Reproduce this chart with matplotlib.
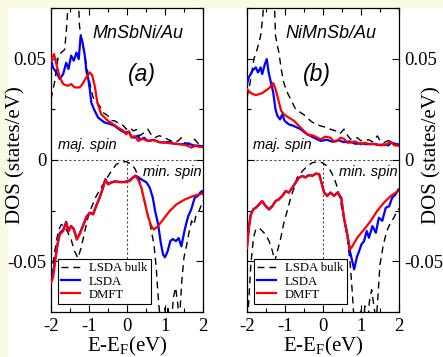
import matplotlib
matplotlib.use("Agg")
import matplotlib.pyplot as plt
from matplotlib.patches import Rectangle
from matplotlib.ticker import MultipleLocator

plt.rcParams['font.family'] = ['Liberation Serif', 'DejaVu Serif']
plt.rcParams['mathtext.fontset'] = 'custom'
plt.rcParams['mathtext.rm'] = 'Liberation Serif'
plt.rcParams['axes.unicode_minus'] = False

# ---- panel (a) MnSbNi/Au, majority spin ----
a_maj_lsda_x = [-2.0, -1.95, -1.86, -1.77, -1.68, -1.60, -1.54, -1.47, -1.40, -1.33, -1.27, -1.22, -1.17,
                -1.11, -1.07, -1.02, -0.98, -0.94, -0.87, -0.76, -0.59, -0.45, -0.32, -0.2, -0.06, 0.05, 0.12,
                0.20, 0.28, 0.35, 0.45, 0.55, 0.7, 0.85, 0.99, 1.1, 1.25, 1.43, 1.6, 1.75, 1.9, 2.0]
a_maj_lsda_y = [0.050, 0.0457, 0.0432, 0.040, 0.0424, 0.048, 0.0449, 0.0515, 0.049, 0.053, 0.0498, 0.0614, 0.058,
                0.0515, 0.044, 0.040, 0.035, 0.0284, 0.0251, 0.0209, 0.0185, 0.0178, 0.0168, 0.015, 0.0135, 0.0140,
                0.0115, 0.011, 0.0120, 0.0100, 0.0110, 0.0094, 0.0098, 0.0088, 0.0086, 0.0090, 0.0080, 0.0077,
                0.0082, 0.0072, 0.0070, 0.0068]
a_maj_dmft_x = [-2.0, -1.92, -1.86, -1.77, -1.68, -1.62, -1.55, -1.47, -1.38, -1.25, -1.17, -1.07, -0.98, -0.92,
                -0.85, -0.78, -0.68, -0.5, -0.35, -0.24, -0.1, -0.02, 0.05, 0.12, 0.2, 0.3, 0.4, 0.55, 0.7, 0.85,
                1.0, 1.15, 1.3, 1.45, 1.6, 1.69, 1.8, 1.9, 2.0]
a_maj_dmft_y = [0.049, 0.0523, 0.0473, 0.0408, 0.0375, 0.0370, 0.0366, 0.0375, 0.0358, 0.0358, 0.0375, 0.0408,
                0.0432, 0.042, 0.0366, 0.0284, 0.0226, 0.0193, 0.0175, 0.016, 0.0145, 0.0127, 0.0140, 0.0110,
                0.0118, 0.0094, 0.0105, 0.0094, 0.0100, 0.0088, 0.0086, 0.0082, 0.0080, 0.0077, 0.0070, 0.0061,
                0.0070, 0.0065, 0.0063]
a_maj_bulk_x = [-2.0, -1.9, -1.81, -1.73, -1.64, -1.6, -1.5, -1.4, -1.3, -1.25, -1.21, -1.11, -0.98, -0.89, -0.8,
                -0.72, -0.63, -0.5, -0.42, -0.32, -0.18, -0.1, -0.02, 0.08, 0.16, 0.25, 0.33, 0.45, 0.55, 0.65,
                0.73, 0.85, 0.99, 1.1, 1.25, 1.35, 1.43, 1.52, 1.6, 1.7, 1.78, 1.88, 2.0]
a_maj_bulk_y = [0.030, 0.039, 0.0515, 0.053, 0.0545, 0.063, 0.09, 0.11, 0.09, 0.066, 0.0614, 0.0515, 0.038,
                0.0308, 0.0284, 0.0267, 0.0234, 0.0218, 0.0195, 0.0193, 0.0176, 0.017, 0.0152, 0.0160, 0.0144,
                0.0150, 0.0119, 0.0135, 0.0152, 0.0120, 0.0110, 0.0120, 0.0110, 0.0100, 0.0086, 0.0095, 0.0110,
                0.0085, 0.0077, 0.0090, 0.0102, 0.0080, 0.0069]

# ---- panel (a) minority spin ----
a_min_lsda_x = [-2.0, -1.95, -1.9, -1.83, -1.77, -1.68, -1.6, -1.54, -1.47, -1.40, -1.32, -1.25, -1.16, -1.07,
                -0.98, -0.89, -0.81, -0.72, -0.63, -0.57, -0.50, -0.41, -0.32, -0.19, -0.06, 0.07, 0.16, 0.22,
                0.3, 0.38, 0.51, 0.6, 0.68, 0.74, 0.82, 0.89, 0.95, 1.0, 1.07, 1.14, 1.2, 1.29, 1.36, 1.43, 1.52,
                1.61, 1.69, 1.78, 1.86, 1.93, 1.97, 2.0]
a_min_lsda_y = [-0.058, -0.0575, -0.050, -0.042, -0.036, -0.0345, -0.0305, -0.035, -0.0325, -0.034, -0.039,
                -0.0365, -0.0325, -0.028, -0.026, -0.0265, -0.0225, -0.0185, -0.0135, -0.0095, -0.0118, -0.011,
                -0.0105, -0.0108, -0.0108, -0.0100, -0.0085, -0.0077, -0.0085, -0.0096, -0.011, -0.0137, -0.0187,
                -0.0252, -0.0318, -0.041, -0.0467, -0.048, -0.045, -0.040, -0.039, -0.040, -0.0385, -0.0426,
                -0.0343, -0.0277, -0.0244, -0.0187, -0.0178, -0.016, -0.0153, -0.0167]
a_min_dmft_x = [-2.0, -1.95, -1.9, -1.83, -1.77, -1.68, -1.6, -1.54, -1.47, -1.40, -1.32, -1.25, -1.16, -1.07,
                -0.98, -0.89, -0.81, -0.72, -0.63, -0.57, -0.50, -0.41, -0.32, -0.19, -0.06, 0.07, 0.16, 0.22,
                0.29, 0.38, 0.46, 0.55, 0.64, 0.71, 0.81, 0.95, 1.12, 1.3, 1.52, 1.74, 1.96, 2.0]
a_min_dmft_y = [-0.0607, -0.0583, -0.0517, -0.0417, -0.0368, -0.0351, -0.031, -0.0351, -0.0327, -0.0343,
                -0.0393, -0.0368, -0.0327, -0.0286, -0.0261, -0.0269, -0.0228, -0.0187, -0.0137, -0.0096,
                -0.0121, -0.0112, -0.0107, -0.011, -0.011, -0.0104, -0.0088, -0.0079, -0.0096, -0.0137, -0.0203,
                -0.0277, -0.0327, -0.0343, -0.0327, -0.0294, -0.0252, -0.0219, -0.0195, -0.0178, -0.0167, -0.0165]
a_min_bulk_x = [-2.0, -1.95, -1.9, -1.81, -1.73, -1.64, -1.55, -1.47, -1.38, -1.29, -1.21, -1.12, -1.03, -0.94,
                -0.81, -0.68, -0.55, -0.41, -0.28, -0.15, -0.02, 0.12, 0.22, 0.33, 0.46, 0.6, 0.71, 0.77, 0.81,
                0.86, 0.92, 0.97, 1.0, 1.04, 1.08, 1.12, 1.17, 1.22, 1.28, 1.33, 1.38, 1.44, 1.5, 1.57, 1.63,
                1.7, 1.76, 1.82, 1.9, 1.96, 2.0]
a_min_bulk_y = [-0.057, -0.052, -0.045, -0.0351, -0.0318, -0.0327, -0.036, -0.0393, -0.045, -0.0484, -0.0434,
                -0.036, -0.0286, -0.0236, -0.0178, -0.0137, -0.0096, -0.0054, -0.0021, -0.001, -0.0008, -0.0021,
                -0.0046, -0.0104, -0.0203, -0.031, -0.0417, -0.0533, -0.065, -0.076, -0.09, -0.085, -0.073,
                -0.086, -0.072, -0.085, -0.08, -0.068, -0.063, -0.07, -0.08, -0.06, -0.048, -0.042, -0.036,
                -0.030, -0.032, -0.027, -0.025, -0.022, -0.020]

# ---- panel (b) NiMnSb/Au, majority spin ----
b_maj_lsda_x = [-2.0, -1.95, -1.86, -1.77, -1.71, -1.64, -1.6, -1.53, -1.48, -1.43, -1.38, -1.31, -1.25, -1.2,
                -1.13, -1.07, -1.01, -0.9, -0.77, -0.59, -0.42, -0.24, -0.06, 0.1, 0.25, 0.4, 0.55, 0.7, 0.85,
                1.0, 1.15, 1.3, 1.45, 1.6, 1.72, 1.8, 1.9, 2.0]
b_maj_lsda_y = [0.0375, 0.0408, 0.044, 0.0457, 0.0432, 0.0457, 0.0424, 0.0473, 0.0498, 0.0432, 0.039, 0.0333,
                0.025, 0.0218, 0.020, 0.0226, 0.0193, 0.0176, 0.0168, 0.0152, 0.0127, 0.011, 0.0094, 0.0100,
                0.0090, 0.0098, 0.0088, 0.0092, 0.0080, 0.0082, 0.0078, 0.0080, 0.0074, 0.0077, 0.0072, 0.0086,
                0.0078, 0.0074]
b_maj_dmft_x = [-2.0, -1.9, -1.77, -1.6, -1.42, -1.31, -1.25, -1.18, -1.1, -1.03, -0.9, -0.76, -0.59, -0.41,
                -0.24, -0.06, 0.06, 0.2, 0.29, 0.38, 0.46, 0.55, 0.64, 0.73, 0.85, 0.99, 1.1, 1.25, 1.38, 1.52,
                1.65, 1.78, 1.88, 2.0]
b_maj_dmft_y = [0.035, 0.033, 0.032, 0.033, 0.0354, 0.038, 0.035, 0.030, 0.0242, 0.0226, 0.0209, 0.0193, 0.016,
                0.0127, 0.0119, 0.0102, 0.0115, 0.0110, 0.0090, 0.0094, 0.0110, 0.0105, 0.0085, 0.0086, 0.0092,
                0.0077, 0.0085, 0.0077, 0.0080, 0.0072, 0.0075, 0.0090, 0.0072, 0.0070]
b_maj_bulk_x = [-2.0, -1.9, -1.82, -1.73, -1.64, -1.58, -1.5, -1.4, -1.3, -1.25, -1.2, -1.16, -1.1, -1.03, -0.94,
                -0.85, -0.72, -0.59, -0.46, -0.33, -0.19, -0.06, 0.11, 0.22, 0.33, 0.45, 0.55, 0.65, 0.73, 0.9,
                1.0, 1.08, 1.2, 1.3, 1.43, 1.52, 1.61, 1.7, 1.78, 1.87, 1.96, 2.0]
b_maj_bulk_y = [0.0308, 0.0399, 0.0498, 0.0548, 0.0614, 0.072, 0.095, 0.11, 0.09, 0.0614, 0.0564, 0.053, 0.0449,
                0.038, 0.0333, 0.030, 0.025, 0.0234, 0.0218, 0.0193, 0.0176, 0.0168, 0.016, 0.0150, 0.0144,
                0.0130, 0.0152, 0.0120, 0.0102, 0.011, 0.0095, 0.0094, 0.0100, 0.009, 0.0119, 0.0090, 0.0086,
                0.0095, 0.0094, 0.0085, 0.0077, 0.0080]

# ---- panel (b) minority spin ----
b_min_lsda_x = [-2.0, -1.95, -1.9, -1.83, -1.77, -1.68, -1.6, -1.51, -1.42, -1.33, -1.25, -1.16, -1.07, -0.98,
                -0.9, -0.81, -0.72, -0.63, -0.54, -0.46, -0.37, -0.28, -0.19, -0.1, -0.04, 0.03, 0.11, 0.2,
                0.29, 0.38, 0.48, 0.55, 0.64, 0.71, 0.77, 0.82, 0.89, 0.95, 1.01, 1.08, 1.15, 1.21, 1.3, 1.39,
                1.47, 1.56, 1.65, 1.74, 1.82, 1.91, 1.98, 2.0]
b_min_lsda_y = [-0.0425, -0.033, -0.0268, -0.0242, -0.0236, -0.0218, -0.0203, -0.0226, -0.0244, -0.0226,
                -0.0203, -0.0193, -0.0176, -0.0153, -0.016, -0.0137, -0.0110, -0.0087, -0.0079, -0.0085,
                -0.0074, -0.0078, -0.0067, -0.007, -0.0112, -0.016, -0.0176, -0.016, -0.0176, -0.016, -0.0186,
                -0.0285, -0.0368, -0.045, -0.050, -0.054, -0.048, -0.045, -0.0417, -0.040, -0.035, -0.0384,
                -0.0326, -0.0359, -0.0285, -0.030, -0.0236, -0.0228, -0.0186, -0.017, -0.0145, -0.015]
b_min_dmft_x = [-2.0, -1.95, -1.9, -1.83, -1.77, -1.68, -1.6, -1.51, -1.42, -1.33, -1.25, -1.16, -1.07, -0.98,
                -0.9, -0.81, -0.72, -0.63, -0.54, -0.46, -0.37, -0.28, -0.19, -0.1, -0.04, 0.03, 0.11, 0.2,
                0.29, 0.38, 0.48, 0.55, 0.64, 0.71, 0.77, 0.9, 1.08, 1.25, 1.43, 1.6, 1.78, 1.98, 2.0]
b_min_dmft_y = [-0.0434, -0.0335, -0.027, -0.0244, -0.0236, -0.022, -0.0203, -0.0228, -0.0244, -0.0228,
                -0.0203, -0.0195, -0.0178, -0.0153, -0.0162, -0.0137, -0.0112, -0.0087, -0.0079, -0.0087,
                -0.0074, -0.0079, -0.0067, -0.007, -0.0112, -0.0162, -0.0178, -0.0162, -0.0178, -0.0162,
                -0.0186, -0.0285, -0.0368, -0.0442, -0.0426, -0.0384, -0.0343, -0.0302, -0.025, -0.0211,
                -0.0178, -0.0153, -0.015]
b_min_bulk_x = [-2.0, -1.97, -1.9, -1.83, -1.77, -1.68, -1.6, -1.51, -1.42, -1.33, -1.27, -1.2, -1.11, -1.03,
                -0.94, -0.85, -0.76, -0.68, -0.54, -0.41, -0.28, -0.15, -0.02, 0.11, 0.2, 0.29, 0.38, 0.46, 0.55,
                0.64, 0.71, 0.77, 0.82, 0.88, 0.95, 1.0, 1.05, 1.1, 1.16, 1.22, 1.28, 1.34, 1.4, 1.45, 1.5, 1.59,
                1.68, 1.75, 1.81, 1.88, 1.94, 2.0]
b_min_bulk_y = [-0.09, -0.075, -0.0517, -0.0384, -0.0343, -0.0335, -0.035, -0.0368, -0.040, -0.045, -0.050,
                -0.045, -0.0384, -0.031, -0.025, -0.0186, -0.0137, -0.0087, -0.0054, -0.003, -0.0013, -0.001,
                -0.0013, -0.003, -0.0054, -0.0087, -0.0137, -0.0203, -0.0285, -0.0384, -0.050, -0.065, -0.08,
                -0.09, -0.085, -0.073, -0.086, -0.072, -0.085, -0.07, -0.064, -0.072, -0.08, -0.066, -0.0515,
                -0.0416, -0.035, -0.032, -0.030, -0.028, -0.025, -0.024]

x_ticks = [-2, -1, 0, 1, 2]
x_labels = ['-2', '-1', '0', '1', '2']
y_ticks = [-0.05, 0, 0.05]
y_labels = ['-0.05', '0', '0.05']

panels = [
    dict(name='MnSbNi/Au', tag='(a)', name_x=0.29, tag_x=0.39, maj_x=-1.05, side='left',
         maj=(a_maj_bulk_x, a_maj_bulk_y, a_maj_lsda_x, a_maj_lsda_y, a_maj_dmft_x, a_maj_dmft_y),
         mino=(a_min_bulk_x, a_min_bulk_y, a_min_lsda_x, a_min_lsda_y, a_min_dmft_x, a_min_dmft_y)),
    dict(name='NiMnSb/Au', tag='(b)', name_x=0.22, tag_x=-0.17, maj_x=-1.08, side='right',
         maj=(b_maj_bulk_x, b_maj_bulk_y, b_maj_lsda_x, b_maj_lsda_y, b_maj_dmft_x, b_maj_dmft_y),
         mino=(b_min_bulk_x, b_min_bulk_y, b_min_lsda_x, b_min_lsda_y, b_min_dmft_x, b_min_dmft_y)),
]

fig = plt.figure(figsize=(4.43, 3.57), dpi=100)
fig.patch.set_facecolor('white')
cream = '#fcfbe2'
fig.patches.append(Rectangle((0, 0), 7 / 443, 1, transform=fig.transFigure, color=cream, zorder=-5))
fig.patches.append(Rectangle((0, 1 - 7 / 357), 1, 7 / 357, transform=fig.transFigure, color=cream, zorder=-5))

lefts = [51 / 443, 247 / 443]
for left, p in zip(lefts, panels):
    ax = fig.add_axes([left, 45 / 357, 152 / 443, 304 / 357])
    ax.set_xlim(-2, 2)
    ax.set_ylim(-0.075, 0.075)

    ax.axhline(0, color='0.3', lw=0.8, ls=(0, (2, 2)), zorder=1)
    ax.vlines(0, -0.075, 0, color='0.3', lw=0.8, ls=(0, (2, 2)), zorder=1)

    for seg in (p['maj'], p['mino']):
        bx, by, lx, ly, dx, dy = seg
        l1, = ax.plot(bx, by, color='black', lw=1.0, dashes=(5, 3.5), zorder=2)
        l2, = ax.plot(lx, ly, color='#0000ff', lw=1.6, zorder=3)
        l3, = ax.plot(dx, dy, color='#ff0000', lw=1.6, zorder=4)

    ax.text(p['name_x'], 0.0625, p['name'], family='Liberation Sans', style='italic',
            fontsize=13, ha='center', va='center')
    ax.text(p['tag_x'], 0.042, p['tag'], family='Liberation Sans', style='italic',
            fontsize=16.5, ha='center', va='center')
    ax.text(p['maj_x'], 0.0072, 'maj. spin', family='Liberation Sans', style='italic',
            fontsize=10.5, ha='center', va='center')
    ax.text(1.18, -0.0058, 'min. spin', family='Liberation Sans', style='italic',
            fontsize=10.5, ha='center', va='center')

    leg = ax.legend([l1, l2, l3], ['LSDA bulk', 'LSDA', 'DMFT'], loc='lower left',
                    bbox_to_anchor=(0.048, 0.026), borderaxespad=0, fontsize=9.2,
                    frameon=True, fancybox=False, framealpha=1, edgecolor='black',
                    handlelength=1.45, handletextpad=0.7, labelspacing=0.1, borderpad=0.25)
    leg.get_frame().set_linewidth(0.8)
    leg.set_zorder(6)

    ax.set_xticks(x_ticks, labels=x_labels)
    ax.set_yticks(y_ticks, labels=y_labels)
    ax.xaxis.set_minor_locator(MultipleLocator(0.5))
    ax.yaxis.set_minor_locator(MultipleLocator(0.025))
    ax.tick_params(which='both', direction='in', top=True, right=True, width=0.8, labelsize=13.5)
    ax.tick_params(which='major', length=5)
    ax.tick_params(which='minor', length=3)
    ax.tick_params(axis='x', pad=4)
    for s in ax.spines.values():
        s.set_linewidth(0.9)

    ax.set_xlabel('E-E$_{\\mathrm{F}}$(eV)', fontsize=15)
    ax.xaxis.set_label_coords(0.5, -0.075)
    ax.set_ylabel('DOS (states/eV)', fontsize=15)
    if p['side'] == 'left':
        ax.yaxis.set_label_coords(-0.165, 0.515)
    else:
        ax.tick_params(axis='y', labelleft=False, labelright=True)
        ax.yaxis.set_label_position('right')
        ax.yaxis.set_label_coords(1.15, 0.515)

fig.savefig('out.png', dpi=100)
